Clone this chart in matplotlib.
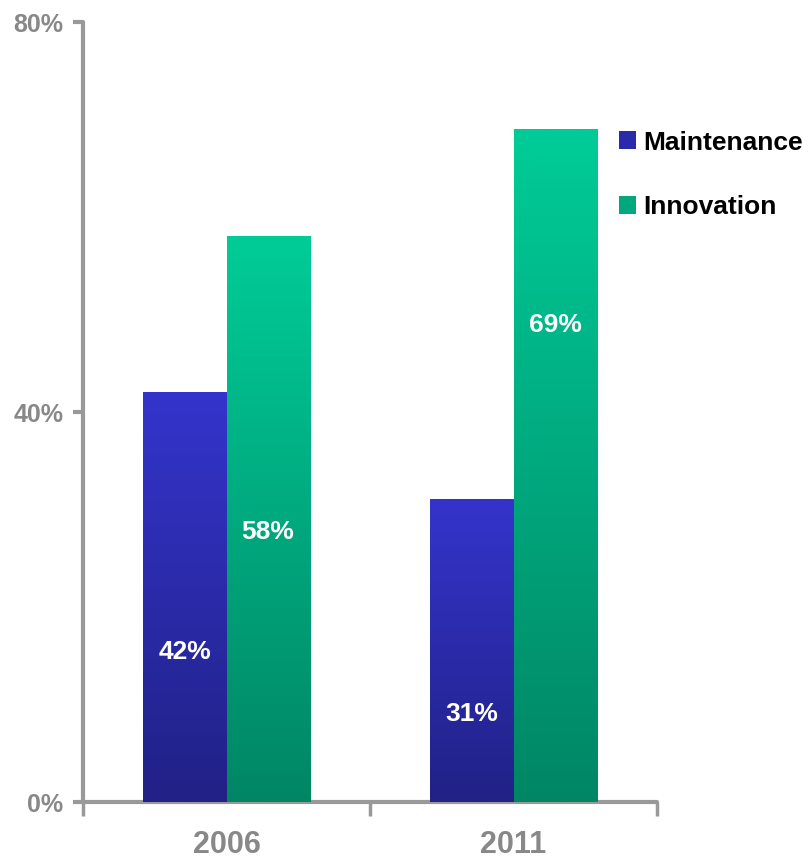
import numpy as np
import matplotlib.pyplot as plt
from matplotlib.colors import LinearSegmentedColormap
from matplotlib.patches import Patch

# ── Data ──
years = ["2006", "2011"]
maintenance = [42, 31]
innovation = [58, 69]
label_y_maint = [15.4, 9.0]
label_y_innov = [27.7, 48.9]
yticks = [0, 40, 80]

FONT = ["Liberation Sans Narrow", "Liberation Sans", "DejaVu Sans"]
GRAY = "#999999"
TXT_GRAY = "#888888"

blue_cmap = LinearSegmentedColormap.from_list("blue", ["#212186", "#3434CC"])
green_cmap = LinearSegmentedColormap.from_list("green", ["#008664", "#00CC98"])

fig = plt.figure(figsize=(8.09, 8.59), dpi=100)
ax = fig.add_axes([83 / 809, 1 - 802 / 859, (657 - 83) / 809, (802 - 22) / 859])

x = np.arange(len(years))
w = 0.29
bars_m = ax.bar(x - w / 2, maintenance, width=w, color="#3434CC", zorder=2)
bars_i = ax.bar(x + w / 2, innovation, width=w, color="#00CC98", zorder=2)

# gradient fill over each bar
grad = np.linspace(0, 1, 256).reshape(-1, 1)
for bars, cmap in [(bars_m, blue_cmap), (bars_i, green_cmap)]:
    for b in bars:
        x0, h, bw = b.get_x(), b.get_height(), b.get_width()
        ax.imshow(grad, cmap=cmap, origin="lower", aspect="auto",
                  extent=[x0, x0 + bw, 0, h], zorder=3)
        b.set_visible(False)

for xi, v, ly in zip(x - w / 2, maintenance, label_y_maint):
    ax.text(xi, ly, f"{v}%", ha="center", va="center", color="white",
            fontsize=19, fontweight="bold", family=FONT, zorder=4)
for xi, v, ly in zip(x + w / 2, innovation, label_y_innov):
    ax.text(xi, ly, f"{v}%", ha="center", va="center", color="white",
            fontsize=19, fontweight="bold", family=FONT, zorder=4)

ax.set_xlim(-0.5, len(years) - 0.5)
ax.set_ylim(0, 80)

ax.set_yticks(yticks)
ax.set_yticklabels([f"{t}%" for t in yticks], family=FONT, fontsize=18,
                   fontweight="bold", color=TXT_GRAY)
ax.tick_params(axis="y", length=7, width=3, color=GRAY, pad=7)

ax.set_xticks(np.arange(-0.5, len(years), 1.0))
ax.set_xticklabels([])
ax.set_xticks(x, minor=True)
ax.set_xticklabels(years, minor=True, family=FONT, fontsize=22,
                   fontweight="bold", color=TXT_GRAY)
ax.tick_params(axis="x", which="major", length=10, width=2.5, color=GRAY)
ax.tick_params(axis="x", which="minor", length=0, pad=20)

for s in ["top", "right"]:
    ax.spines[s].set_visible(False)
for s in ["left", "bottom"]:
    ax.spines[s].set_color(GRAY)
    ax.spines[s].set_linewidth(3)
    ax.spines[s].set_capstyle("round")

# ── Legend ──
handles = [Patch(facecolor="#2a2aaa", label="Maintenance"),
           Patch(facecolor="#00a87e", label="Innovation")]
fig.legend(handles=handles, loc="upper left", bbox_to_anchor=(608 / 809, 1 - 120 / 859),
           frameon=False, prop={"family": FONT, "size": 19, "weight": "bold"},
           handlelength=0.65, handleheight=0.65, handletextpad=0.28,
           labelspacing=1.55, borderaxespad=0)

fig.savefig("out.png", dpi=100)
